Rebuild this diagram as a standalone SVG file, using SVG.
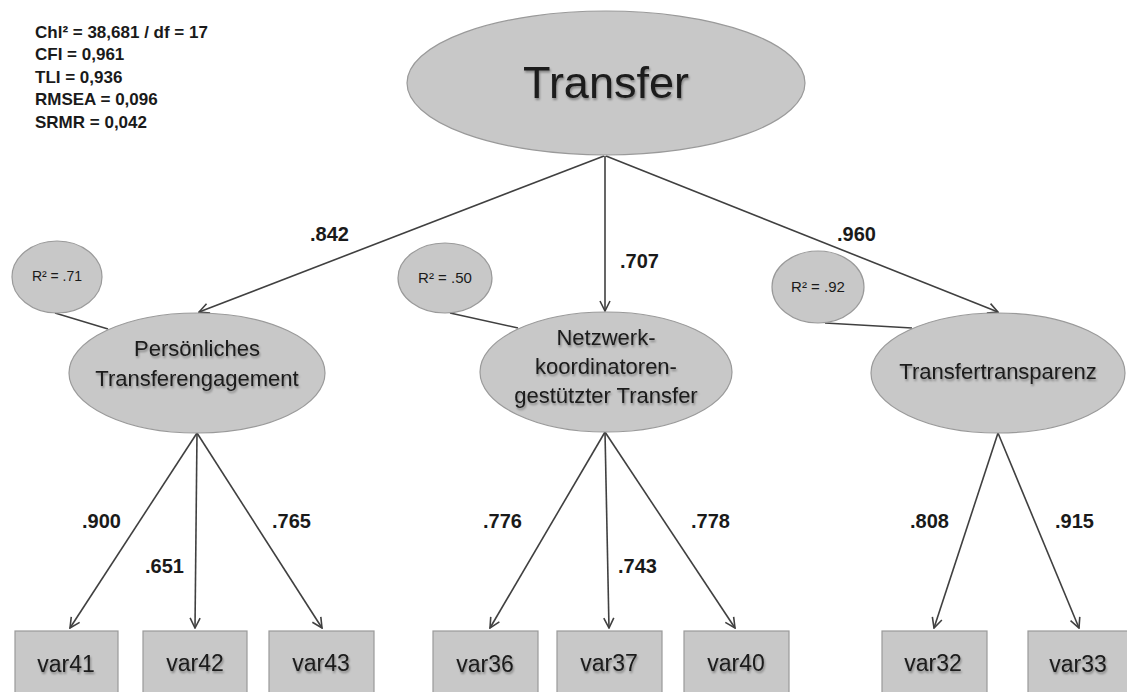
<svg xmlns="http://www.w3.org/2000/svg" width="1127" height="692" viewBox="0 0 1127 692">
<defs>
<marker id="arr" viewBox="0 0 12 12" refX="11" refY="6" markerWidth="12" markerHeight="12" markerUnits="userSpaceOnUse" orient="auto">
<path d="M1,1 L11,6 L1,11" fill="none" stroke="#404040" stroke-width="1.6"/>
</marker>
<filter id="sh" x="-10%" y="-20%" width="120%" height="150%">
<feDropShadow dx="1" dy="2" stdDeviation="1.2" flood-color="#000" flood-opacity="0.35"/>
</filter>
</defs>
<style>
.node{fill:#c8c8c8;stroke:#9a9a9a;stroke-width:1.2}
.lbl{font-family:"Liberation Sans",Arial,sans-serif;fill:#1a1a1a;text-anchor:middle}
.fit{font-family:"Liberation Sans",Arial,sans-serif;font-weight:bold;font-size:17px;fill:#1a1a1a}
.num{font-family:"Liberation Sans",Arial,sans-serif;font-weight:bold;font-size:20px;fill:#1a1a1a}
.con{stroke:#404040;stroke-width:1.6;fill:none}
.arw{marker-end:url(#arr)}
</style>
<rect width="1127" height="692" fill="#ffffff"/>

<g id="fit-indices">
<text class="fit" x="35" y="38">Chl² = 38,681 / df = 17</text>
<text class="fit" x="35" y="60">CFI = 0,961</text>
<text class="fit" x="35" y="83">TLI = 0,936</text>
<text class="fit" x="35" y="105">RMSEA = 0,096</text>
<text class="fit" x="35" y="128">SRMR = 0,042</text>
</g>

<g id="connectors">
<line class="con arw" x1="604" y1="156" x2="199" y2="312"/>
<line class="con arw" x1="605" y1="156" x2="605" y2="311"/>
<line class="con arw" x1="606" y1="156" x2="998" y2="312"/>
<line class="con" x1="55" y1="313" x2="108" y2="329"/>
<line class="con" x1="450" y1="313" x2="518" y2="328"/>
<line class="con" x1="825" y1="323" x2="912" y2="328"/>
<line class="con arw" x1="197" y1="433" x2="70" y2="628"/>
<line class="con arw" x1="197" y1="433" x2="195" y2="628"/>
<line class="con arw" x1="197" y1="433" x2="322" y2="628"/>
<line class="con arw" x1="605" y1="432" x2="490" y2="628"/>
<line class="con arw" x1="605" y1="432" x2="609" y2="628"/>
<line class="con arw" x1="605" y1="432" x2="735" y2="628"/>
<line class="con arw" x1="998" y1="433" x2="934" y2="628"/>
<line class="con arw" x1="998" y1="433" x2="1079" y2="628"/>
</g>

<g id="path-labels">
<text class="num" x="310" y="241">.842</text>
<text class="num" x="620" y="268">.707</text>
<text class="num" x="837" y="241">.960</text>
<text class="num" x="82" y="528">.900</text>
<text class="num" x="145" y="573">.651</text>
<text class="num" x="272" y="528">.765</text>
<text class="num" x="483" y="528">.776</text>
<text class="num" x="618" y="573">.743</text>
<text class="num" x="691" y="528">.778</text>
<text class="num" x="910" y="528">.808</text>
<text class="num" x="1055" y="528">.915</text>
</g>

<g id="transfer">
<ellipse class="node" cx="606" cy="83" rx="199" ry="72"/>
<text class="lbl" x="606" y="98" font-size="45" filter="url(#sh)">Transfer</text>
</g>

<g id="r2-71">
<ellipse class="node" cx="57" cy="277" rx="45" ry="36"/>
<text class="lbl" x="57" y="281" font-size="14">R² = .71</text>
</g>
<g id="r2-50">
<ellipse class="node" cx="445" cy="278" rx="47" ry="35"/>
<text class="lbl" x="445" y="283" font-size="15">R² = .50</text>
</g>
<g id="r2-92">
<ellipse class="node" cx="818" cy="287" rx="46" ry="36"/>
<text class="lbl" x="818" y="292" font-size="15">R² = .92</text>
</g>

<g id="persoenliches">
<ellipse class="node" cx="197" cy="373" rx="128" ry="60"/>
<text class="lbl" font-size="22" filter="url(#sh)"><tspan x="197" y="356">Persönliches</tspan><tspan x="197" y="386">Transferengagement</tspan></text>
</g>
<g id="netzwerk">
<ellipse class="node" cx="606" cy="372" rx="126" ry="60"/>
<text class="lbl" font-size="22" filter="url(#sh)"><tspan x="606" y="345">Netzwerk-</tspan><tspan x="606" y="374">koordinatoren-</tspan><tspan x="606" y="403">gestützter Transfer</tspan></text>
</g>
<g id="transfertransparenz">
<ellipse class="node" cx="998" cy="373" rx="127" ry="60"/>
<text class="lbl" x="998" y="379" font-size="22" filter="url(#sh)">Transfertransparenz</text>
</g>

<g id="var41"><rect class="node" x="15" y="631" width="103" height="70"/><text class="lbl" x="66" y="672" font-size="23" filter="url(#sh)">var41</text></g>
<g id="var42"><rect class="node" x="143" y="631" width="104" height="70"/><text class="lbl" x="195" y="671" font-size="23" filter="url(#sh)">var42</text></g>
<g id="var43"><rect class="node" x="269" y="631" width="105" height="70"/><text class="lbl" x="321" y="671" font-size="23" filter="url(#sh)">var43</text></g>
<g id="var36"><rect class="node" x="433" y="631" width="105" height="70"/><text class="lbl" x="485" y="672" font-size="23" filter="url(#sh)">var36</text></g>
<g id="var37"><rect class="node" x="557" y="631" width="105" height="70"/><text class="lbl" x="609" y="671" font-size="23" filter="url(#sh)">var37</text></g>
<g id="var40"><rect class="node" x="684" y="631" width="105" height="70"/><text class="lbl" x="736" y="671" font-size="23" filter="url(#sh)">var40</text></g>
<g id="var32"><rect class="node" x="882" y="631" width="105" height="70"/><text class="lbl" x="933" y="671" font-size="23" filter="url(#sh)">var32</text></g>
<g id="var33"><rect class="node" x="1028" y="631" width="105" height="70"/><text class="lbl" x="1078" y="672" font-size="23" filter="url(#sh)">var33</text></g>
</svg>
